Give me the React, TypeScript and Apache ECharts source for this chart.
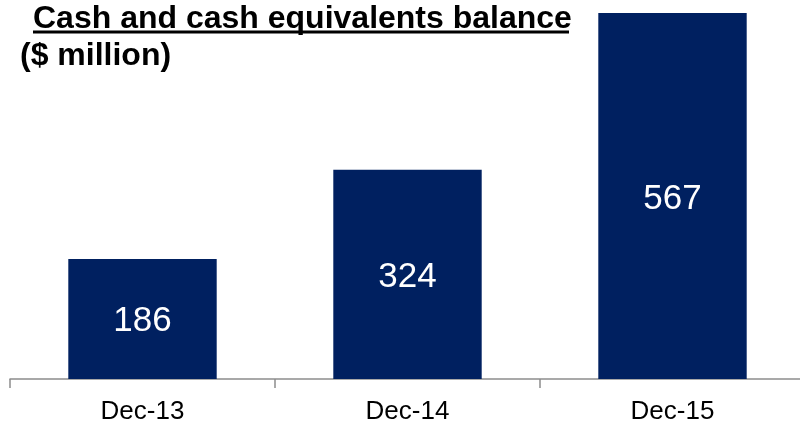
import React, { useEffect, useRef } from "react";
import * as echarts from "echarts";

const categories = ["Dec-13", "Dec-14", "Dec-15"];
const values = [186, 324, 567];
const titleLine1 = "Cash and cash equivalents balance";
const titleLine2 = "($ million)";

export default function App() {
  const ref = useRef<HTMLDivElement>(null);
  useEffect(() => {
    if (!ref.current) return;
    const chart = echarts.init(ref.current, undefined, { renderer: "svg" });
    const font = "'Liberation Sans', Arial, sans-serif";
    chart.setOption({
      animation: false,
      grid: { left: 10, right: 5, top: 13, bottom: 45, containLabel: false },
      xAxis: {
        type: "category",
        data: categories,
        axisLine: { show: true, lineStyle: { color: "#8c8c8c", width: 1.5 } },
        axisTick: { show: true, length: 9, lineStyle: { color: "#8c8c8c", width: 1.5 } },
        axisLabel: { color: "#000", fontSize: 26, fontFamily: font, margin: 18 },
      },
      yAxis: { type: "value", min: 0, max: 567, show: false, splitLine: { show: false } },
      series: [
        {
          type: "bar",
          data: values,
          barWidth: "56%",
          itemStyle: { color: "#002060" },
          label: {
            show: true,
            position: "inside",
            color: "#fff",
            fontSize: 35,
            fontFamily: font,
          },
        },
      ],
      graphic: [
        {
          type: "text",
          left: 33,
          top: 1,
          style: { text: titleLine1, font: `bold 32px ${font}`, fill: "#000" },
        },
        {
          type: "text",
          left: 20,
          top: 38,
          style: { text: titleLine2, font: `bold 32px ${font}`, fill: "#000" },
        },
        {
          type: "line",
          shape: { x1: 33, y1: 32, x2: 569, y2: 32 },
          style: { stroke: "#000", lineWidth: 3 },
        },
      ],
    });
    return () => chart.dispose();
  }, []);
  return (
    <div style={{ position: "fixed", left: 0, top: 0, width: 800, height: 424, overflow: "hidden" }}>
      <div ref={ref} style={{ width: 810, height: 424 }} />
    </div>
  );
}
